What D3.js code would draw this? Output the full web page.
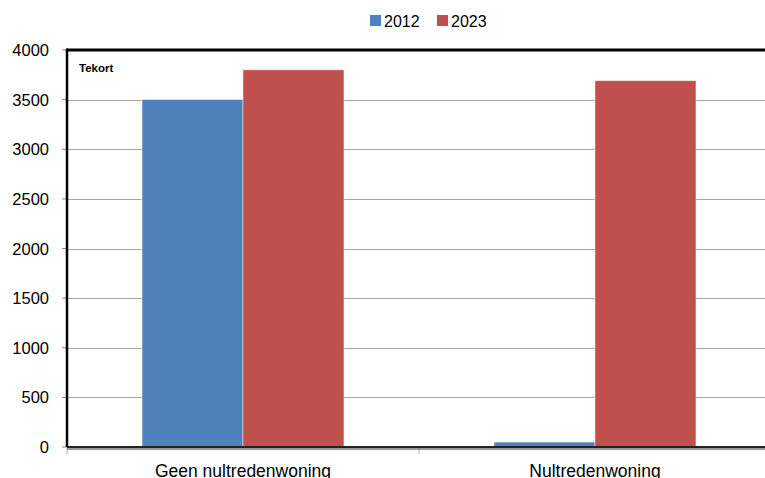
<!DOCTYPE html>
<html>
<head>
<meta charset="utf-8">
<script src="https://cdn.jsdelivr.net/npm/d3@7"></script>
<style>
  body { margin: 0; background: #fff; }
  svg { display: block; font-family: "Liberation Sans", Arial, sans-serif; }
</style>
</head>
<body>
<svg id="chart" width="765" height="478"></svg>
<script>
// data
var categories = ['Geen nultredenwoning', 'Nultredenwoning'];
var seriesNames = ['2012', '2023'];
var values2012 = [3500, 50];
var values2023 = [3800, 3690];
var yTicks = [0, 500, 1000, 1500, 2000, 2500, 3000, 3500, 4000];
var colors = ['#4F81BD', '#C0504D'];

var svg = d3.select('#chart');

var plotLeft = 67, plotRight = 771, plotTop = 50, plotBottom = 447;

var x0 = d3.scaleBand().domain(categories).range([plotLeft, plotRight]).padding(0);
var x1 = d3.scaleBand().domain(seriesNames).range([0, x0.bandwidth()])
    .paddingInner(0).paddingOuter(0.743);
var y = d3.scaleLinear().domain([0, 4000]).range([plotBottom, plotTop]);

// gridlines
svg.append('g')
    .selectAll('line')
    .data(yTicks.filter(function (d) { return d > 0 && d < 4000; }))
    .enter().append('line')
        .attr('x1', plotLeft).attr('x2', 765)
        .attr('y1', function (d) { return Math.round(y(d)) + 0.5; })
        .attr('y2', function (d) { return Math.round(y(d)) + 0.5; })
        .attr('stroke', '#a6a6a6').attr('stroke-width', 1);

// bars
var rows = categories.map(function (c, i) {
    return { cat: c, vals: [values2012[i], values2023[i]] };
});

var groups = svg.append('g').selectAll('g')
    .data(rows)
    .enter().append('g')
        .attr('transform', function (d) { return 'translate(' + x0(d.cat) + ',0)'; });

groups.selectAll('rect')
    .data(function (d) { return d.vals.map(function (v, j) { return { name: seriesNames[j], v: v, j: j }; }); })
    .enter().append('rect')
        .attr('x', function (d) { return x1(d.name); })
        .attr('width', x1.bandwidth())
        .attr('y', function (d) { return y(d.v); })
        .attr('height', function (d) { return plotBottom - y(d.v); })
        .attr('fill', function (d) { return colors[d.j]; })
        .attr('stroke', '#f4dede').attr('stroke-width', 0.6);

// y axis ticks + labels
var yAxis = svg.append('g');
yAxis.selectAll('line')
    .data(yTicks)
    .enter().append('line')
        .attr('x1', plotLeft - 5).attr('x2', plotLeft)
        .attr('y1', function (d) { return y(d); })
        .attr('y2', function (d) { return y(d); })
        .attr('stroke', '#888');
yAxis.selectAll('text')
    .data(yTicks)
    .enter().append('text')
        .attr('x', plotLeft - 18)
        .attr('y', function (d) { return y(d) + 6; })
        .attr('text-anchor', 'end')
        .attr('font-size', 16.5)
        .attr('fill', '#000')
        .text(function (d) { return d; });

// x axis ticks at category edges
var edges = [plotLeft].concat(categories.map(function (c) { return x0(c) + x0.bandwidth(); }));
svg.append('g').selectAll('line')
    .data(edges)
    .enter().append('line')
        .attr('x1', function (d) { return d; }).attr('x2', function (d) { return d; })
        .attr('y1', plotBottom).attr('y2', plotBottom + 7)
        .attr('stroke', '#aaa');

// frame: thick top and left, dark bottom axis
svg.append('line').attr('x1', plotLeft).attr('x2', 765).attr('y1', plotTop).attr('y2', plotTop)
    .attr('stroke', '#000').attr('stroke-width', 3);
svg.append('line').attr('x1', plotLeft).attr('x2', plotLeft).attr('y1', plotTop - 1.5).attr('y2', plotBottom)
    .attr('stroke', '#000').attr('stroke-width', 2.5);
svg.append('line').attr('x1', plotLeft).attr('x2', 765).attr('y1', plotBottom).attr('y2', plotBottom)
    .attr('stroke', '#222').attr('stroke-width', 2);
svg.append('line').attr('x1', plotLeft).attr('x2', 765).attr('y1', plotBottom + 2).attr('y2', plotBottom + 2)
    .attr('stroke', '#777').attr('stroke-width', 1.5);

// category labels
svg.append('g').selectAll('text')
    .data(categories)
    .enter().append('text')
        .attr('x', function (d) { return x0(d) + x0.bandwidth() / 2; })
        .attr('y', 477)
        .attr('text-anchor', 'middle')
        .attr('font-size', 17.5)
        .text(function (d) { return d; });

// Tekort label
svg.append('text')
    .attr('x', 79).attr('y', 72)
    .attr('font-size', 11.5).attr('font-weight', 'bold')
    .text('Tekort');

// legend
var legend = svg.append('g');
var legendX = [370, 437];
seriesNames.forEach(function (s, i) {
    legend.append('rect')
        .attr('x', legendX[i]).attr('y', 15)
        .attr('width', 11).attr('height', 11)
        .attr('fill', colors[i]);
    legend.append('text')
        .attr('x', legendX[i] + 14).attr('y', 27)
        .attr('font-size', 16)
        .text(s);
});
</script>
</body>
</html>
